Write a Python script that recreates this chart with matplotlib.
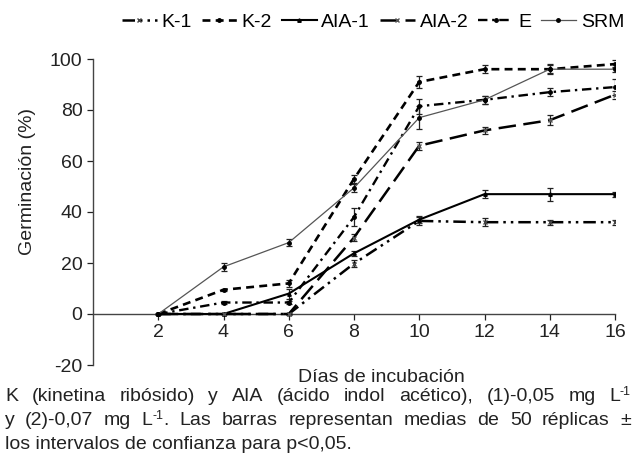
import matplotlib
matplotlib.use('Agg')
import matplotlib.pyplot as plt
from matplotlib import font_manager

plt.rcParams['font.family'] = ['Liberation Sans', 'DejaVu Sans']
plt.rcParams['axes.unicode_minus'] = False

# Data
dias = [2, 4, 6, 8, 10, 12, 14, 16]
k1 = [0, 0, 0, 19.8, 36.5, 36, 36, 36]
k1_err = [0, 0, 0.5, 1.5, 1.5, 1.5, 1, 1]
k2 = [0, 9.5, 12, 53, 91, 96, 96, 98]
k2_err = [0, 0.5, 1.5, 1.5, 2.5, 1.5, 1.5, 1.5]
aia1 = [0, 0, 8, 23.8, 37, 47, 47, 47]
aia1_err = [0, 0, 2, 1, 1.5, 1.5, 2.5, 1]
aia2 = [0, 0, 0, 30, 66, 72, 76, 86]
aia2_err = [0, 0, 0, 1.5, 1.5, 1.5, 2, 1.5]
e = [0, 4.5, 4.5, 38, 81.5, 84, 87, 89]
e_err = [0, 0.5, 0.5, 3.5, 3, 1.5, 1.5, 3]
srm = [0, 18.5, 28, 49.5, 77, 84, 96, 96]
srm_err = [0, 1.5, 1.5, 1.5, 4.5, 1.5, 2, 1]

names = ['K-1', 'K-2', 'AIA-1', 'AIA-2', 'E', 'SRM']
series = [k1, k2, aia1, aia2, e, srm]
errors = [k1_err, k2_err, aia1_err, aia2_err, e_err, srm_err]
styles = [
    dict(ls=(0, (5, 2, 1, 2, 1, 2)), lw=1.8, color='black', marker='x', ms=3.5, mec='#444444'),
    dict(ls=(0, (3, 2)), lw=1.9, color='black', marker='o', ms=2.5),
    dict(ls='-', lw=1.5, color='black', marker='^', ms=2.5),
    dict(ls=(0, (7, 3)), lw=1.8, color='black', marker='x', ms=3.5, mec='#555555'),
    dict(ls=(0, (4, 2, 1, 2)), lw=1.7, color='black', marker='o', ms=2.5),
    dict(ls='-', lw=0.9, color='#555555', marker='o', ms=2.5, mec='black', mfc='black'),
]

fig = plt.figure(figsize=(6.35, 4.57), dpi=100)
ax = fig.add_axes([93 / 635, 1 - 365 / 457, (615 - 93) / 635, 306 / 457])

handles = []
for name, y, err, st in zip(names, series, errors, styles):
    ax.errorbar(dias, y, yerr=err, fmt='none', ecolor='#222222', elinewidth=0.9,
                capsize=2.5, capthick=0.9, zorder=3)
    h, = ax.plot(dias, y, label=name, zorder=4, **st)
    handles.append(h)

ax.set_xlim(0, 16)
ax.set_ylim(-20, 100)
ax.set_xticks(dias)
ax.set_yticks(range(-20, 101, 20))
ax.tick_params(labelsize=14, colors='#222222', length=4, width=0.9)
ax.spines['top'].set_visible(False)
ax.spines['right'].set_visible(False)
ax.spines['bottom'].set_position(('data', 0))
for sp in ('left', 'bottom'):
    ax.spines[sp].set_color('#444444')
    ax.spines[sp].set_linewidth(1.0)

ax.set_ylabel('Germinación (%)', fontsize=14, color='#222222')
ax.yaxis.set_label_coords(-0.11, 0.6)
fig.text(381 / 635, 1 - 378 / 457, 'Días de incubación', fontsize=14,
         ha='center', va='center', color='#222222')

fig.legend(handles=handles, ncol=6, loc='center right', bbox_to_anchor=(0.995, 1 - 22 / 457),
           frameon=False, fontsize=14, handlelength=1.8, handletextpad=0.25,
           columnspacing=0.5, borderaxespad=0)

# caption, justified like the original; words as (text, superscript, tail)
available = {f.name for f in font_manager.fontManager.ttflist}
cap_font = ['Liberation Sans Narrow', 'Liberation Sans'] if 'Liberation Sans Narrow' in available \
    else ['Liberation Sans']
cap_lines = [
    ['K', '(kinetina', 'ribósido)', 'y', 'AIA', '(ácido', 'indol', 'acético),',
     '(1)-0,05', 'mg', ('L', '-1', '')],
    ['y', '(2)-0,07', 'mg', ('L', '-1', '.'), 'Las', 'barras', 'representan', 'medias',
     'de', '50', 'réplicas', '±'],
    ['los intervalos de confianza para p<0,05.'],
]
cap_y = [401, 425, 449]
x0, x1 = 5, 631
renderer = fig.canvas.get_renderer()


def make_word(w, yy):
    # returns list of (text_obj, x offset px) and total width px
    parts = [w] if isinstance(w, str) else [w[0], w[1], w[2]]
    objs = []
    off = 0
    for i, p in enumerate(parts):
        if not p:
            continue
        sup = (not isinstance(w, str)) and i == 1
        t = fig.text(0, 1 - (yy - (6 if sup else 0)) / 457, p, fontsize=9 if sup else 14,
                     family=cap_font, va='baseline', ha='left', color='#222222')
        wd = t.get_window_extent(renderer).width
        objs.append((t, off))
        off += wd
    return objs, off


for words, yy in zip(cap_lines, cap_y):
    built = [make_word(w, yy) for w in words]
    widths = [b[1] for b in built]
    gap = (x1 - x0 - sum(widths)) / (len(words) - 1) if len(words) > 1 else 0
    x = x0
    for objs, wd in built:
        for t, off in objs:
            t.set_x((x + off) / 635)
        x += wd + gap

fig.savefig('out.png', dpi=100)
